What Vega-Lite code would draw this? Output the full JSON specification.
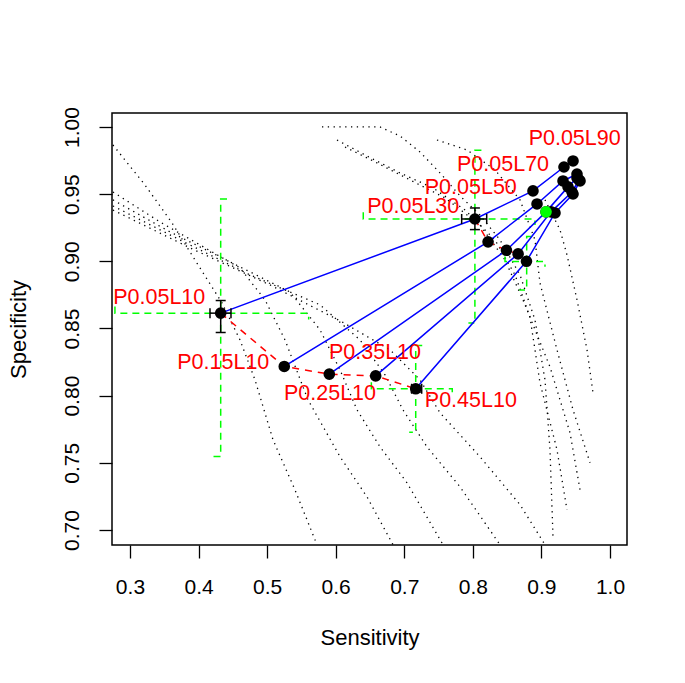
{
  "$schema": "https://vega.github.io/schema/vega-lite/v6.json",
  "width": 515,
  "height": 432,
  "autosize": {"type": "none"},
  "padding": {"left": 112, "top": 113, "right": 58, "bottom": 138},
  "background": "white",
  "config": {
    "view": {"stroke": "black", "strokeWidth": 1.5},
    "font": "Liberation Sans",
    "axis": {"grid": false, "domain": false, "tickColor": "black", "tickWidth": 1.3, "tickSize": 13,
             "labelFont": "Liberation Sans", "labelFontSize": 21, "labelColor": "black",
             "titleFont": "Liberation Sans", "titleFontSize": 22, "titleFontWeight": "normal", "titleColor": "black",
             "labelOverlap": false, "labelFlush": false}
  },
  "datasets": {
    "points": [
      {"P": 0.05, "L": 10, "sens": 0.4323, "spec": 0.8614},
      {"P": 0.05, "L": 30, "sens": 0.8030, "spec": 0.9315},
      {"P": 0.05, "L": 50, "sens": 0.8877, "spec": 0.9524},
      {"P": 0.05, "L": 70, "sens": 0.9329, "spec": 0.9702},
      {"P": 0.05, "L": 90, "sens": 0.9461, "spec": 0.9747},
      {"P": 0.15, "L": 10, "sens": 0.5250, "spec": 0.8217},
      {"P": 0.15, "L": 30, "sens": 0.8222, "spec": 0.9145},
      {"P": 0.15, "L": 50, "sens": 0.8936, "spec": 0.9427},
      {"P": 0.15, "L": 70, "sens": 0.9315, "spec": 0.9598},
      {"P": 0.15, "L": 90, "sens": 0.9519, "spec": 0.9650},
      {"P": 0.25, "L": 10, "sens": 0.5907, "spec": 0.8160},
      {"P": 0.25, "L": 30, "sens": 0.8490, "spec": 0.9082},
      {"P": 0.25, "L": 50, "sens": 0.9067, "spec": 0.9368},
      {"P": 0.25, "L": 70, "sens": 0.9388, "spec": 0.9554},
      {"P": 0.25, "L": 90, "sens": 0.9519, "spec": 0.9621},
      {"P": 0.35, "L": 10, "sens": 0.6583, "spec": 0.8147},
      {"P": 0.35, "L": 30, "sens": 0.8660, "spec": 0.9055},
      {"P": 0.35, "L": 50, "sens": 0.9140, "spec": 0.9368},
      {"P": 0.35, "L": 70, "sens": 0.9446, "spec": 0.9516},
      {"P": 0.35, "L": 90, "sens": 0.9548, "spec": 0.9606},
      {"P": 0.45, "L": 10, "sens": 0.7167, "spec": 0.8051},
      {"P": 0.45, "L": 30, "sens": 0.8782, "spec": 0.9000},
      {"P": 0.45, "L": 50, "sens": 0.9198, "spec": 0.9360},
      {"P": 0.45, "L": 70, "sens": 0.9461, "spec": 0.9501},
      {"P": 0.45, "L": 90, "sens": 0.9563, "spec": 0.9598}
    ],
    "best": [{"sens": 0.9067, "spec": 0.9368}],
    "errors": [
      {"id": "P0.05L10", "sens": 0.4323, "spec": 0.8614, "sens_lo": 0.4167, "sens_hi": 0.4473, "spec_lo": 0.8470, "spec_hi": 0.8708},
      {"id": "P0.05L30", "sens": 0.8030, "spec": 0.9315, "sens_lo": 0.7837, "sens_hi": 0.8202, "spec_lo": 0.9236, "spec_hi": 0.9397},
      {"id": "P0.45L10", "sens": 0.7167, "spec": 0.8051, "sens_lo": 0.7108, "sens_hi": 0.7254, "spec_lo": 0.8025, "spec_hi": 0.8075}
    ],
    "brackets": [
      {"b": "1h", "o": 1, "sens": 0.2781, "spec": 0.8663}, {"b": "1h", "o": 2, "sens": 0.2781, "spec": 0.8614},
      {"b": "1h", "o": 3, "sens": 0.5606, "spec": 0.8614}, {"b": "1h", "o": 4, "sens": 0.5606, "spec": 0.8566},
      {"b": "1v", "o": 1, "sens": 0.4415, "spec": 0.9464}, {"b": "1v", "o": 2, "sens": 0.4323, "spec": 0.9464},
      {"b": "1v", "o": 3, "sens": 0.4323, "spec": 0.7547}, {"b": "1v", "o": 4, "sens": 0.4215, "spec": 0.7547},
      {"b": "2h", "o": 1, "sens": 0.6402, "spec": 0.9365}, {"b": "2h", "o": 2, "sens": 0.6402, "spec": 0.9315},
      {"b": "2h", "o": 3, "sens": 0.8906, "spec": 0.9315}, {"b": "2h", "o": 4, "sens": 0.8906, "spec": 0.9271},
      {"b": "2v", "o": 1, "sens": 0.8125, "spec": 0.9827}, {"b": "2v", "o": 2, "sens": 0.8030, "spec": 0.9827},
      {"b": "2v", "o": 3, "sens": 0.8030, "spec": 0.8540}, {"b": "2v", "o": 4, "sens": 0.7935, "spec": 0.8540},
      {"b": "3h", "o": 1, "sens": 0.6520, "spec": 0.8100}, {"b": "3h", "o": 2, "sens": 0.6520, "spec": 0.8051},
      {"b": "3h", "o": 3, "sens": 0.7700, "spec": 0.8051}, {"b": "3h", "o": 4, "sens": 0.7700, "spec": 0.8002},
      {"b": "3v", "o": 1, "sens": 0.7262, "spec": 0.8373}, {"b": "3v", "o": 2, "sens": 0.7167, "spec": 0.8373},
      {"b": "3v", "o": 3, "sens": 0.7167, "spec": 0.7728}, {"b": "3v", "o": 4, "sens": 0.7072, "spec": 0.7728},
      {"b": "4h", "o": 1, "sens": 0.8469, "spec": 0.9035}, {"b": "4h", "o": 2, "sens": 0.8469, "spec": 0.8998},
      {"b": "4h", "o": 3, "sens": 0.9052, "spec": 0.8998}, {"b": "4h", "o": 4, "sens": 0.9052, "spec": 0.8960},
      {"b": "4v", "o": 1, "sens": 0.8858, "spec": 0.9184}, {"b": "4v", "o": 2, "sens": 0.8785, "spec": 0.9184},
      {"b": "4v", "o": 3, "sens": 0.8785, "spec": 0.8787}, {"b": "4v", "o": 4, "sens": 0.8677, "spec": 0.8787}
    ],
    "labels": [
      {"label": "P0.05L10", "lx": 0.3427, "ly": 0.8725},
      {"label": "P0.15L10", "lx": 0.4361, "ly": 0.8242},
      {"label": "P0.25L10", "lx": 0.5917, "ly": 0.8012},
      {"label": "P0.35L10", "lx": 0.6573, "ly": 0.8316},
      {"label": "P0.45L10", "lx": 0.7971, "ly": 0.7963},
      {"label": "P0.05L30", "lx": 0.7131, "ly": 0.9406},
      {"label": "P0.05L50", "lx": 0.7970, "ly": 0.9546},
      {"label": "P0.05L70", "lx": 0.8440, "ly": 0.9717},
      {"label": "P0.05L90", "lx": 0.9485, "ly": 0.9907}
    ],
    "curves": [
      {"c": "D1", "o": 1, "sens": 0.2752, "spec": 0.9866}, {"c": "D1", "o": 2, "sens": 0.3219, "spec": 0.9568},
      {"c": "D1", "o": 3, "sens": 0.3613, "spec": 0.9286}, {"c": "D1", "o": 4, "sens": 0.3948, "spec": 0.9010},
      {"c": "D1", "o": 5, "sens": 0.4342, "spec": 0.8690}, {"c": "D1", "o": 6, "sens": 0.4604, "spec": 0.8415},
      {"c": "D1", "o": 7, "sens": 0.4823, "spec": 0.8118}, {"c": "D1", "o": 8, "sens": 0.5086, "spec": 0.7671},
      {"c": "D1", "o": 9, "sens": 0.5406, "spec": 0.7299}, {"c": "D1", "o": 10, "sens": 0.5727, "spec": 0.6890},
      {"c": "D2", "o": 1, "sens": 0.2752, "spec": 0.9516}, {"c": "D2", "o": 2, "sens": 0.3438, "spec": 0.9293},
      {"c": "D2", "o": 3, "sens": 0.4021, "spec": 0.9122}, {"c": "D2", "o": 4, "sens": 0.4604, "spec": 0.8951},
      {"c": "D2", "o": 5, "sens": 0.4969, "spec": 0.8713}, {"c": "D2", "o": 6, "sens": 0.5261, "spec": 0.8415},
      {"c": "D2", "o": 7, "sens": 0.5596, "spec": 0.7969}, {"c": "D2", "o": 8, "sens": 0.6063, "spec": 0.7545},
      {"c": "D2", "o": 9, "sens": 0.6456, "spec": 0.7247}, {"c": "D2", "o": 10, "sens": 0.6836, "spec": 0.6890},
      {"c": "D3", "o": 1, "sens": 0.2752, "spec": 0.9457}, {"c": "D3", "o": 2, "sens": 0.3583, "spec": 0.9219},
      {"c": "D3", "o": 3, "sens": 0.4458, "spec": 0.8996}, {"c": "D3", "o": 4, "sens": 0.5333, "spec": 0.8772},
      {"c": "D3", "o": 5, "sens": 0.5771, "spec": 0.8490}, {"c": "D3", "o": 6, "sens": 0.6063, "spec": 0.8192},
      {"c": "D3", "o": 7, "sens": 0.6311, "spec": 0.7894}, {"c": "D3", "o": 8, "sens": 0.6646, "spec": 0.7619},
      {"c": "D3", "o": 9, "sens": 0.7040, "spec": 0.7351}, {"c": "D3", "o": 10, "sens": 0.7565, "spec": 0.6890},
      {"c": "D4", "o": 1, "sens": 0.2752, "spec": 0.9412}, {"c": "D4", "o": 2, "sens": 0.3729, "spec": 0.9159},
      {"c": "D4", "o": 3, "sens": 0.4750, "spec": 0.8899}, {"c": "D4", "o": 4, "sens": 0.5771, "spec": 0.8676},
      {"c": "D4", "o": 5, "sens": 0.6354, "spec": 0.8415}, {"c": "D4", "o": 6, "sens": 0.6719, "spec": 0.8155},
      {"c": "D4", "o": 7, "sens": 0.6981, "spec": 0.7894}, {"c": "D4", "o": 8, "sens": 0.7331, "spec": 0.7619},
      {"c": "D4", "o": 9, "sens": 0.7813, "spec": 0.7321}, {"c": "D4", "o": 10, "sens": 0.8396, "spec": 0.6890},
      {"c": "D5", "o": 1, "sens": 0.2752, "spec": 0.9382}, {"c": "D5", "o": 2, "sens": 0.3875, "spec": 0.9100},
      {"c": "D5", "o": 3, "sens": 0.5042, "spec": 0.8824}, {"c": "D5", "o": 4, "sens": 0.6092, "spec": 0.8549},
      {"c": "D5", "o": 5, "sens": 0.6792, "spec": 0.8341}, {"c": "D5", "o": 6, "sens": 0.7229, "spec": 0.8118},
      {"c": "D5", "o": 7, "sens": 0.7521, "spec": 0.7872}, {"c": "D5", "o": 8, "sens": 0.8104, "spec": 0.7545},
      {"c": "D5", "o": 9, "sens": 0.8688, "spec": 0.7188}, {"c": "D5", "o": 10, "sens": 0.9052, "spec": 0.6890},
      {"c": "R1", "o": 1, "sens": 0.5800, "spec": 1.0000}, {"c": "R1", "o": 2, "sens": 0.6646, "spec": 1.0000},
      {"c": "R1", "o": 3, "sens": 0.6938, "spec": 0.9933}, {"c": "R1", "o": 4, "sens": 0.7229, "spec": 0.9814},
      {"c": "R1", "o": 5, "sens": 0.7521, "spec": 0.9658}, {"c": "R1", "o": 6, "sens": 0.7813, "spec": 0.9487},
      {"c": "R1", "o": 7, "sens": 0.8104, "spec": 0.9345}, {"c": "R1", "o": 8, "sens": 0.8396, "spec": 0.9159},
      {"c": "R1", "o": 9, "sens": 0.8688, "spec": 0.8899}, {"c": "R1", "o": 10, "sens": 0.8906, "spec": 0.8564},
      {"c": "R1", "o": 11, "sens": 0.9052, "spec": 0.8118}, {"c": "R1", "o": 12, "sens": 0.9125, "spec": 0.7597},
      {"c": "R1", "o": 13, "sens": 0.9169, "spec": 0.6949},
      {"c": "R2", "o": 1, "sens": 0.6019, "spec": 0.9903}, {"c": "R2", "o": 2, "sens": 0.6456, "spec": 0.9784},
      {"c": "R2", "o": 3, "sens": 0.6938, "spec": 0.9658}, {"c": "R2", "o": 4, "sens": 0.7419, "spec": 0.9546},
      {"c": "R2", "o": 5, "sens": 0.7886, "spec": 0.9382}, {"c": "R2", "o": 6, "sens": 0.8323, "spec": 0.9159},
      {"c": "R2", "o": 7, "sens": 0.8615, "spec": 0.8899}, {"c": "R2", "o": 8, "sens": 0.8833, "spec": 0.8586},
      {"c": "R2", "o": 9, "sens": 0.8979, "spec": 0.8095}, {"c": "R2", "o": 10, "sens": 0.9227, "spec": 0.7597},
      {"c": "R2", "o": 11, "sens": 0.9373, "spec": 0.7150},
      {"c": "R3", "o": 1, "sens": 0.6136, "spec": 0.9851}, {"c": "R3", "o": 2, "sens": 0.6573, "spec": 0.9740},
      {"c": "R3", "o": 3, "sens": 0.7083, "spec": 0.9606}, {"c": "R3", "o": 4, "sens": 0.7594, "spec": 0.9472},
      {"c": "R3", "o": 5, "sens": 0.8104, "spec": 0.9271}, {"c": "R3", "o": 6, "sens": 0.8469, "spec": 0.9010},
      {"c": "R3", "o": 7, "sens": 0.8731, "spec": 0.8713}, {"c": "R3", "o": 8, "sens": 0.9125, "spec": 0.8214},
      {"c": "R3", "o": 9, "sens": 0.9417, "spec": 0.7723}, {"c": "R3", "o": 10, "sens": 0.9563, "spec": 0.7299},
      {"c": "R4", "o": 1, "sens": 0.7477, "spec": 0.9903}, {"c": "R4", "o": 2, "sens": 0.7915, "spec": 0.9829},
      {"c": "R4", "o": 3, "sens": 0.8323, "spec": 0.9680}, {"c": "R4", "o": 4, "sens": 0.8688, "spec": 0.9457},
      {"c": "R4", "o": 5, "sens": 0.8906, "spec": 0.9159}, {"c": "R4", "o": 6, "sens": 0.8979, "spec": 0.8839},
      {"c": "R4", "o": 7, "sens": 0.9227, "spec": 0.8341}, {"c": "R4", "o": 8, "sens": 0.9461, "spec": 0.7894},
      {"c": "R4", "o": 9, "sens": 0.9709, "spec": 0.7500},
      {"c": "R5", "o": 1, "sens": 0.9052, "spec": 0.9457}, {"c": "R5", "o": 2, "sens": 0.9271, "spec": 0.9234},
      {"c": "R5", "o": 3, "sens": 0.9373, "spec": 0.9048}, {"c": "R5", "o": 4, "sens": 0.9519, "spec": 0.8713},
      {"c": "R5", "o": 5, "sens": 0.9665, "spec": 0.8341}, {"c": "R5", "o": 6, "sens": 0.9752, "spec": 0.8021}
    ]
  },
  "encoding": {
    "x": {"field": "sens", "type": "quantitative",
          "scale": {"domain": [0.2738, 1.0248], "nice": false, "zero": false},
          "axis": {"title": "Sensitivity", "values": [0.3, 0.4, 0.5, 0.6, 0.7, 0.8, 0.9, 1.0], "format": ".1f",
                   "labelBaseline": "middle", "labelPadding": 29, "titleX": 257.5, "titleY": 92, "titleBaseline": "middle", "titleAnchor": null}},
    "y": {"field": "spec", "type": "quantitative",
          "scale": {"domain": [0.6888, 1.0104], "nice": false, "zero": false},
          "axis": {"title": "Specificity", "values": [0.7, 0.75, 0.8, 0.85, 0.9, 0.95, 1.0], "format": ".2f",
                   "labelAngle": -90, "labelAlign": "center", "labelBaseline": "middle", "labelPadding": 27,
                   "titleAngle": -90, "titleX": -94, "titleY": 216, "titleBaseline": "middle", "titleAlign": "center"}}
  },
  "layer": [
    {"data": {"name": "curves"},
     "mark": {"type": "line", "stroke": "black", "strokeWidth": 1.3, "strokeDash": [1.3, 4.5], "clip": true},
     "encoding": {"detail": {"field": "c"}, "order": {"field": "o"}}},
    {"data": {"name": "brackets"},
     "mark": {"type": "line", "stroke": "#00FF00", "strokeWidth": 1.5, "strokeDash": [7, 5], "clip": true},
     "encoding": {"detail": {"field": "b"}, "order": {"field": "o"}}},
    {"data": {"name": "points"},
     "mark": {"type": "line", "stroke": "#0000FF", "strokeWidth": 1.5},
     "encoding": {"detail": {"field": "P"}, "order": {"field": "L"}}},
    {"data": {"name": "points"},
     "transform": [{"filter": "datum.L == 10 || datum.L == 30"}],
     "mark": {"type": "line", "stroke": "#FF0000", "strokeWidth": 1.5, "strokeDash": [7, 6]},
     "encoding": {"detail": {"field": "L"}, "order": {"field": "P"}}},
    {"data": {"name": "points"},
     "mark": {"type": "circle", "size": 135, "fill": "black", "opacity": 1}},
    {"data": {"name": "best"},
     "mark": {"type": "circle", "size": 135, "fill": "#00FF00", "opacity": 1}},
    {"data": {"name": "errors"},
     "mark": {"type": "rule", "stroke": "black", "strokeWidth": 1.5},
     "encoding": {"x": {"field": "sens_lo", "type": "quantitative"}, "x2": {"field": "sens_hi"}}},
    {"data": {"name": "errors"},
     "mark": {"type": "rule", "stroke": "black", "strokeWidth": 1.5},
     "encoding": {"y": {"field": "spec_lo", "type": "quantitative"}, "y2": {"field": "spec_hi"}}},
    {"data": {"name": "errors"},
     "mark": {"type": "tick", "orient": "vertical", "size": 10, "thickness": 1.5, "color": "black", "opacity": 1},
     "encoding": {"x": {"field": "sens_lo", "type": "quantitative"}}},
    {"data": {"name": "errors"},
     "mark": {"type": "tick", "orient": "vertical", "size": 10, "thickness": 1.5, "color": "black", "opacity": 1},
     "encoding": {"x": {"field": "sens_hi", "type": "quantitative"}}},
    {"data": {"name": "errors"},
     "mark": {"type": "tick", "orient": "horizontal", "size": 10, "thickness": 1.5, "color": "black", "opacity": 1},
     "encoding": {"y": {"field": "spec_lo", "type": "quantitative"}}},
    {"data": {"name": "errors"},
     "mark": {"type": "tick", "orient": "horizontal", "size": 10, "thickness": 1.5, "color": "black", "opacity": 1},
     "encoding": {"y": {"field": "spec_hi", "type": "quantitative"}}},
    {"data": {"name": "labels"},
     "mark": {"type": "text", "color": "#FF0000", "fontSize": 21.5, "font": "Liberation Sans", "align": "center", "baseline": "middle"},
     "encoding": {"x": {"field": "lx", "type": "quantitative"}, "y": {"field": "ly", "type": "quantitative"}, "text": {"field": "label"}}}
  ]
}
